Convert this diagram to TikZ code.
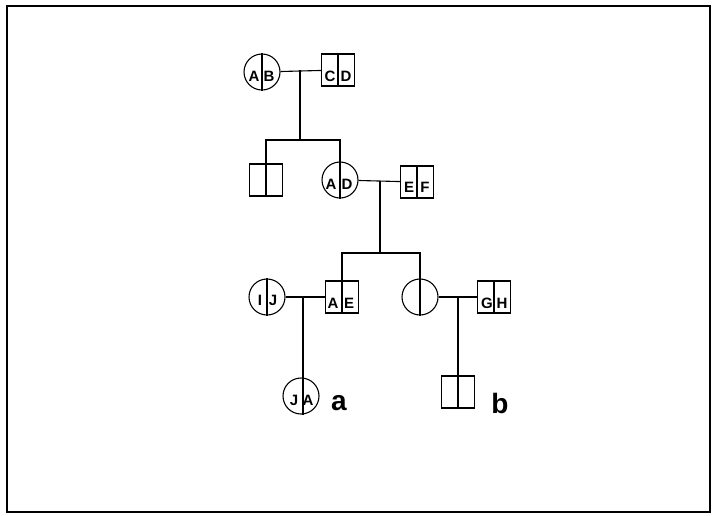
\documentclass[tikz,border=0pt]{standalone}
\usepackage{fontspec}
\setmainfont{Liberation Sans}
\begin{document}
\begin{tikzpicture}[x=1pt,y=-1pt,
  fem/.style={circle,draw,minimum size=36pt,inner sep=0pt,line width=1.1pt},
  mal/.style={rectangle,draw,minimum width=33pt,minimum height=32pt,inner sep=0pt,line width=1.1pt},
  gl/.style={font=\fontsize{15}{15}\selectfont\bfseries,inner sep=0pt},
  conn/.style={line width=1.1pt},
  lab/.style={font=\fontsize{28}{28}\selectfont\bfseries,inner sep=0pt}]
\useasboundingbox (0,0) rectangle (712,515);
\node[draw,line width=2pt,minimum width=703pt,minimum height=506pt,inner sep=0pt,anchor=north west] (frame) at (6,5) {};
% generation I
\node[fem] (ab) at (262,72) {};
\node[mal] (cd) at (338,70) {};
% generation II
\node[mal] (s1) at (266,180) {};
\node[fem] (ad) at (340,180) {};
\node[mal] (ef) at (417,182) {};
% generation III
\node[fem] (ij) at (267,297) {};
\node[mal] (ae) at (342,297) {};
\node[fem] (d3) at (420,297) {};
\node[mal] (gh) at (494,297) {};
% generation IV
\node[fem] (ja) at (301,396) {};
\node[mal] (b4) at (458,392) {};
% letters
\node[gl] (tA1) at ([xshift=-8pt,yshift=-4pt]ab.center) {A};
\node[gl] (tB1) at ([xshift=7pt,yshift=-4pt]ab.center) {B};
\node[gl] (tC) at ([xshift=-8pt,yshift=-6pt]cd.center) {C};
\node[gl] (tD) at ([xshift=8pt,yshift=-6pt]cd.center) {D};
\node[gl] (tA2) at ([xshift=-9pt,yshift=-4pt]ad.center) {A};
\node[gl] (tD2) at ([xshift=7pt,yshift=-4pt]ad.center) {D};
\node[gl] (tE) at ([xshift=-8pt,yshift=-5pt]ef.center) {E};
\node[gl] (tF) at ([xshift=8pt,yshift=-5pt]ef.center) {F};
\node[gl] (tI) at ([xshift=-7pt,yshift=-3pt]ij.center) {I};
\node[gl] (tJ) at ([xshift=6pt,yshift=-3pt]ij.center) {J};
\node[gl] (tA3) at ([xshift=-9pt,yshift=-6pt]ae.center) {A};
\node[gl] (tE3) at ([xshift=7pt,yshift=-6pt]ae.center) {E};
\node[gl] (tG) at ([xshift=-7pt,yshift=-6pt]gh.center) {G};
\node[gl] (tH) at ([xshift=8pt,yshift=-6pt]gh.center) {H};
\node[gl] (tJ4) at ([xshift=-7pt,yshift=-4pt]ja.center) {J};
\node[gl] (tA4) at ([xshift=7pt,yshift=-4pt]ja.center) {A};
\node[lab] (la) at (339,403) {a};
\node[lab] (lb) at (500,403) {b};
% dividers in squares and circles
\draw[conn] (ab.north) -- (ab.south);
\draw[conn] (cd.north) -- (cd.south);
\draw[conn] (ef.north) -- (ef.south);
\draw[conn] (ij.north) -- (ij.south);
\draw[conn] (gh.north) -- (gh.south);
% marriages and descent
\coordinate (m1) at (300,70);
\coordinate (m2) at (380,181);
\coordinate (m3) at (303,297);
\coordinate (m4) at (458,297);
\coordinate (b1) at (300,140);
\coordinate (b2) at (380,253);
\draw[conn] (ab) -- (cd);
\draw[conn] (ad) -- (ef);
\draw[conn] (ij) -- (ae);
\draw[conn] (d3) -- (gh);
\draw[conn] (m1) -- (b1);
\draw[conn] (s1.south) -- (s1.south |- b1) -- (ad.south |- b1) -- (ad.south);
\draw[conn] (m2) -- (b2);
\draw[conn] (ae.south) -- (ae.south |- b2) -- (d3.south |- b2) -- (d3.south);
\draw[conn] (m3) -- (m3 |- ja.south);
\draw[conn] (m4) -- (b4.south);
\end{tikzpicture}
\end{document}
